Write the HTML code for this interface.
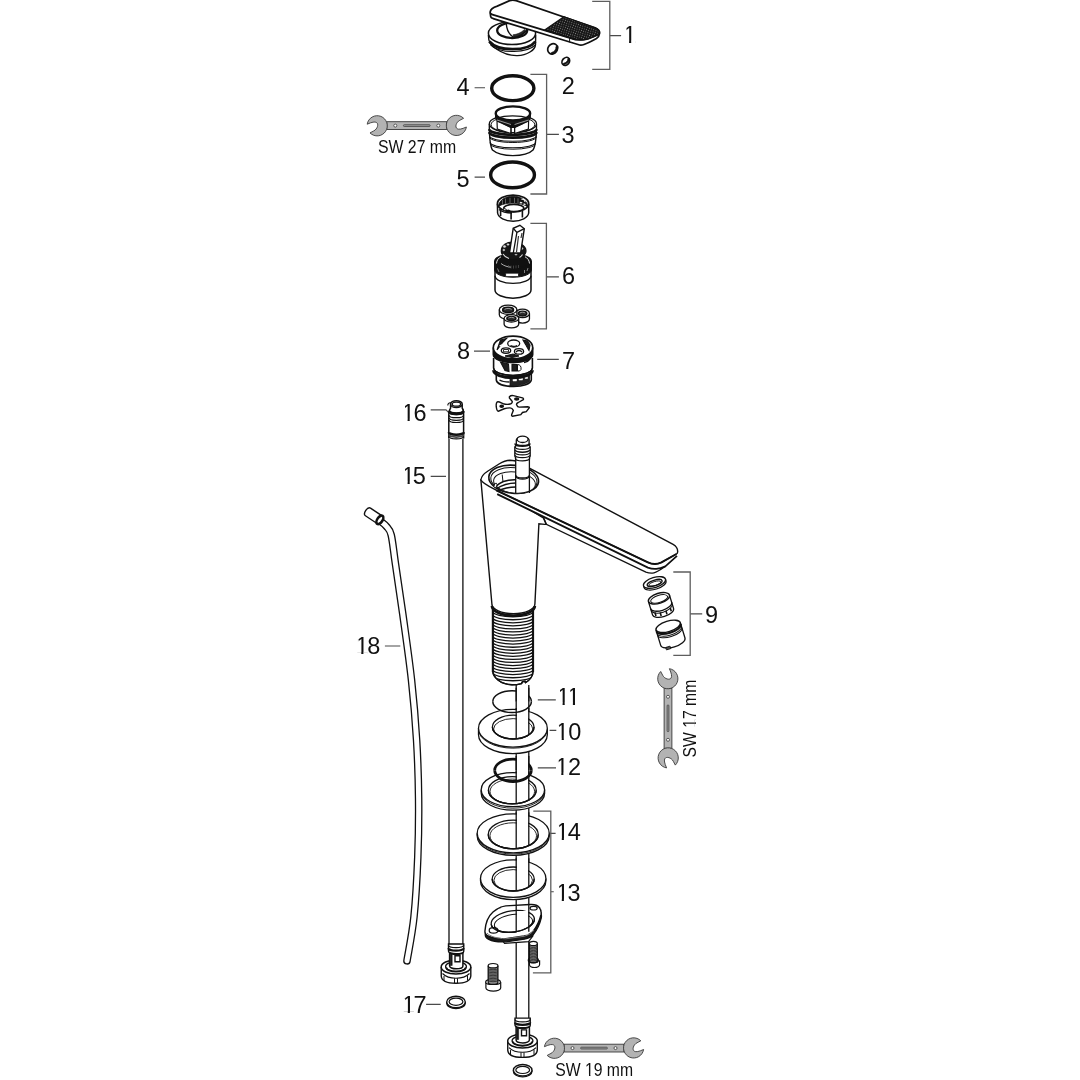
<!DOCTYPE html>
<html><head><meta charset="utf-8"><style>
html,body{margin:0;padding:0;background:#fff;}
svg{display:block;}
.lb{font-family:"Liberation Sans",sans-serif;font-size:23.5px;fill:#111;}
.sw{font-family:"Liberation Sans",sans-serif;font-size:17.5px;fill:#111;}
</style></head><body>
<svg width="1080" height="1080" viewBox="0 0 1080 1080">
<rect width="1080" height="1080" fill="#fff"/>
<g style="opacity:0.999">
<text x="623.19" y="42.8" class="lb">1</text>
<text x="561.77" y="94.2" class="lb">2</text>
<text x="561.53" y="143.2" class="lb">3</text>
<text x="456.49" y="94.8" class="lb">4</text>
<text x="456.44" y="186.7" class="lb">5</text>
<text x="561.98" y="284.2" class="lb">6</text>
<text x="561.90" y="368.9" class="lb">7</text>
<text x="457.12" y="359.0" class="lb">8</text>
<text x="705.12" y="622.6" class="lb">9</text>
<text x="555.79" y="740.0" class="lb">1</text>
<text x="568.32" y="740.0" class="lb">0</text>
<text x="556.69" y="704.7" class="lb">1</text>
<text x="566.99" y="704.7" class="lb">1</text>
<text x="555.39" y="774.8" class="lb">1</text>
<text x="568.11" y="774.8" class="lb">2</text>
<text x="555.89" y="900.8" class="lb">1</text>
<text x="567.53" y="900.8" class="lb">3</text>
<text x="555.89" y="840.0" class="lb">1</text>
<text x="567.84" y="840.0" class="lb">4</text>
<text x="401.69" y="483.7" class="lb">1</text>
<text x="412.82" y="483.7" class="lb">5</text>
<text x="401.69" y="420.9" class="lb">1</text>
<text x="413.46" y="420.9" class="lb">6</text>
<text x="401.89" y="1013.3" class="lb">1</text>
<text x="413.51" y="1013.3" class="lb">7</text>
<text x="355.39" y="654.2" class="lb">1</text>
<text x="367.35" y="654.2" class="lb">8</text>
<rect x="624.34" y="40.74" width="4.73" height="3.06" fill="#fff"/>
<rect x="631.21" y="40.74" width="4.49" height="3.06" fill="#fff"/>
<rect x="624.91" y="27.88" width="1.61" height="3.79" fill="#fff"/>
<rect x="556.94" y="737.94" width="4.73" height="3.06" fill="#fff"/>
<rect x="563.81" y="737.94" width="4.49" height="3.06" fill="#fff"/>
<rect x="557.51" y="725.08" width="1.61" height="3.79" fill="#fff"/>
<rect x="557.84" y="702.64" width="4.73" height="3.06" fill="#fff"/>
<rect x="564.71" y="702.64" width="4.49" height="3.06" fill="#fff"/>
<rect x="558.41" y="689.78" width="1.61" height="3.79" fill="#fff"/>
<rect x="568.14" y="702.64" width="4.73" height="3.06" fill="#fff"/>
<rect x="575.01" y="702.64" width="4.49" height="3.06" fill="#fff"/>
<rect x="568.71" y="689.78" width="1.61" height="3.79" fill="#fff"/>
<rect x="556.54" y="772.74" width="4.73" height="3.06" fill="#fff"/>
<rect x="563.41" y="772.74" width="4.49" height="3.06" fill="#fff"/>
<rect x="557.11" y="759.88" width="1.61" height="3.79" fill="#fff"/>
<rect x="557.04" y="898.74" width="4.73" height="3.06" fill="#fff"/>
<rect x="563.91" y="898.74" width="4.49" height="3.06" fill="#fff"/>
<rect x="557.61" y="885.88" width="1.61" height="3.79" fill="#fff"/>
<rect x="557.04" y="837.94" width="4.73" height="3.06" fill="#fff"/>
<rect x="563.91" y="837.94" width="4.49" height="3.06" fill="#fff"/>
<rect x="557.61" y="825.08" width="1.61" height="3.79" fill="#fff"/>
<rect x="402.84" y="481.64" width="4.73" height="3.06" fill="#fff"/>
<rect x="409.71" y="481.64" width="4.49" height="3.06" fill="#fff"/>
<rect x="403.41" y="468.78" width="1.61" height="3.79" fill="#fff"/>
<rect x="402.84" y="418.84" width="4.73" height="3.06" fill="#fff"/>
<rect x="409.71" y="418.84" width="4.49" height="3.06" fill="#fff"/>
<rect x="403.41" y="405.98" width="1.61" height="3.79" fill="#fff"/>
<rect x="403.04" y="1011.24" width="4.73" height="3.06" fill="#fff"/>
<rect x="409.91" y="1011.24" width="4.49" height="3.06" fill="#fff"/>
<rect x="403.61" y="998.38" width="1.61" height="3.79" fill="#fff"/>
<rect x="356.54" y="652.14" width="4.73" height="3.06" fill="#fff"/>
<rect x="363.41" y="652.14" width="4.49" height="3.06" fill="#fff"/>
<rect x="357.11" y="639.28" width="1.61" height="3.79" fill="#fff"/>
<text transform="translate(377.9 152.9) scale(0.906 1)" class="sw">SW 27 mm</text>
<g transform="translate(555.3 1075.5) scale(0.9 1)"><text class="sw">SW 19 mm</text><rect x="33.91" y="-1.61" width="3.52" height="2.61" fill="#fff"/><rect x="39.02" y="-1.61" width="3.34" height="2.61" fill="#fff"/></g>
<g transform="translate(695.9 757.5) rotate(-90) scale(0.9 1)"><text class="sw">SW 17 mm</text><rect x="33.91" y="-1.61" width="3.52" height="2.61" fill="#fff"/><rect x="39.02" y="-1.61" width="3.34" height="2.61" fill="#fff"/></g>
</g>
<path d="M609.8,35.6H621.1M546.6,134.4H558.9M474.6,87.7H485M474.6,177.1H485M546.4,276.8H558.9M537.2,359.4H558.8M474,351.1H490M690.2,613.9H702.2M549.6,730.4H556.3M537.8,699.9H555.8M537.8,767.9H556M551,891.7H553.75M548,833.3H555.6M430.7,476.4H446M426.1,1004.3H440.7M384.9,646H400.3M430.7,409.9H446L449,412.9" fill="none" stroke="#4a4a4a" stroke-width="1.15"/>
<path d="M592.2,1.4H609.8V69.4H592.2 M530.4,74.3H546.6V194H530.4 M530.4,223.3H546.4V328.9H530.4 M673.3,572H690.2V655.3H673.3 M533.3,811.1H550.8V972.9H532.9" fill="none" stroke="#5e5e5e" stroke-width="1.3"/>
<g transform="translate(416.8 125.6) rotate(0)"><rect x="-30" y="-3.9" width="60" height="7.8" fill="#b3b3b3" stroke="#3a3a3a" stroke-width="0.9"/><circle cx="-21.5" cy="0" r="1.5" fill="#fff" stroke="#3a3a3a" stroke-width="0.8"/><circle cx="21.5" cy="0" r="1.5" fill="#fff" stroke="#3a3a3a" stroke-width="0.8"/><rect x="-13.4" y="-0.9" width="26.8" height="1.8" rx="0.9" fill="#999" stroke="#3a3a3a" stroke-width="0.7"/><path transform="translate(-38.7 0)" d="M-10.9,-1.4A10.1,10.1 0 1 1 -8.1,7.3L-4.3,5.3C-0.6,3.4 0.8,-1.6 -1.6,-3.1C-3.2,-4.1 -6,-3.6 -10.9,-1.4Z" fill="#b3b3b3" stroke="#3a3a3a" stroke-width="0.9"/><path transform="translate(38.7 0) rotate(180)" d="M-10.9,-1.4A10.1,10.1 0 1 1 -8.1,7.3L-4.3,5.3C-0.6,3.4 0.8,-1.6 -1.6,-3.1C-3.2,-4.1 -6,-3.6 -10.9,-1.4Z" fill="#b3b3b3" stroke="#3a3a3a" stroke-width="0.9"/></g>
<g transform="translate(594.0 1048.1) rotate(0)"><rect x="-30" y="-3.9" width="60" height="7.8" fill="#b3b3b3" stroke="#3a3a3a" stroke-width="0.9"/><circle cx="-21.5" cy="0" r="1.5" fill="#fff" stroke="#3a3a3a" stroke-width="0.8"/><circle cx="21.5" cy="0" r="1.5" fill="#fff" stroke="#3a3a3a" stroke-width="0.8"/><rect x="-13.4" y="-0.9" width="26.8" height="1.8" rx="0.9" fill="#999" stroke="#3a3a3a" stroke-width="0.7"/><path transform="translate(-38.7 0)" d="M-10.9,-1.4A10.1,10.1 0 1 1 -8.1,7.3L-4.3,5.3C-0.6,3.4 0.8,-1.6 -1.6,-3.1C-3.2,-4.1 -6,-3.6 -10.9,-1.4Z" fill="#b3b3b3" stroke="#3a3a3a" stroke-width="0.9"/><path transform="translate(38.7 0) rotate(180)" d="M-10.9,-1.4A10.1,10.1 0 1 1 -8.1,7.3L-4.3,5.3C-0.6,3.4 0.8,-1.6 -1.6,-3.1C-3.2,-4.1 -6,-3.6 -10.9,-1.4Z" fill="#b3b3b3" stroke="#3a3a3a" stroke-width="0.9"/></g>
<g transform="translate(668.0 718.3) rotate(90)"><rect x="-30" y="-3.9" width="60" height="7.8" fill="#b3b3b3" stroke="#3a3a3a" stroke-width="0.9"/><circle cx="-21.5" cy="0" r="1.5" fill="#fff" stroke="#3a3a3a" stroke-width="0.8"/><circle cx="21.5" cy="0" r="1.5" fill="#fff" stroke="#3a3a3a" stroke-width="0.8"/><rect x="-13.4" y="-0.9" width="26.8" height="1.8" rx="0.9" fill="#999" stroke="#3a3a3a" stroke-width="0.7"/><path transform="translate(-38.7 0)" d="M-10.9,-1.4A10.1,10.1 0 1 1 -8.1,7.3L-4.3,5.3C-0.6,3.4 0.8,-1.6 -1.6,-3.1C-3.2,-4.1 -6,-3.6 -10.9,-1.4Z" fill="#b3b3b3" stroke="#3a3a3a" stroke-width="0.9"/><path transform="translate(38.7 0) rotate(180)" d="M-10.9,-1.4A10.1,10.1 0 1 1 -8.1,7.3L-4.3,5.3C-0.6,3.4 0.8,-1.6 -1.6,-3.1C-3.2,-4.1 -6,-3.6 -10.9,-1.4Z" fill="#b3b3b3" stroke="#3a3a3a" stroke-width="0.9"/></g>
<path d="M379.5,520.5 C380.67,521.50 384.55,524.08 386.5,526.5 C388.45,528.92 389.72,528.83 391.2,535 C392.68,541.17 393.45,550.18 395.4,563.5 C397.35,576.82 400.22,595.48 402.9,614.9 C405.58,634.32 409.22,659.15 411.5,680 C413.78,700.85 415.42,720.33 416.6,740 C417.78,759.67 418.40,778.50 418.6,798 C418.80,817.50 418.57,837.22 417.8,857 C417.03,876.78 415.80,899.40 414,916.7 C412.20,934.00 408.17,953.45 407,960.8" fill="none" stroke="#111" stroke-width="7.6" stroke-linecap="round"/>
<path d="M379.5,520.5 C380.67,521.50 384.55,524.08 386.5,526.5 C388.45,528.92 389.72,528.83 391.2,535 C392.68,541.17 393.45,550.18 395.4,563.5 C397.35,576.82 400.22,595.48 402.9,614.9 C405.58,634.32 409.22,659.15 411.5,680 C413.78,700.85 415.42,720.33 416.6,740 C417.78,759.67 418.40,778.50 418.6,798 C418.80,817.50 418.57,837.22 417.8,857 C417.03,876.78 415.80,899.40 414,916.7 C412.20,934.00 408.17,953.45 407,960.8" fill="none" stroke="#fff" stroke-width="5.0" stroke-linecap="round"/>
<g transform="translate(373.8 515.8) rotate(33.5)"><path d="M6.5,-4.6 H-7 C-10.5,-4.6 -10.5,4.6 -7,4.6 H6.5" fill="#fff" stroke="#111" stroke-width="1.4"/><ellipse cx="7.3" cy="0" rx="2.6" ry="4.8" fill="#fff" stroke="#111" stroke-width="2.6"/></g>
<path d="M449,438.5 V944 M462.9,438.5 V944" fill="none" stroke="#111" stroke-width="1.3"/>
<path d="M448.8,438.5 V414 L449.4,410.5 L450.6,408 V404 A5.8,3.2 0 0 1 462.2,404 V408 L463.3,410.5 L463.6,414 V438.5" fill="#fff" stroke="#111" stroke-width="1.5"/>
<ellipse cx="456.4" cy="404.2" rx="4.2" ry="2.0" fill="#fff" stroke="#111" stroke-width="1.3"/>
<path d="M450.59999999999997,404.5A5.8,3.0 0 0 0 462.2,404.5" fill="none" stroke="#111" stroke-width="1.4"/>
<path d="M449.4,410.5 A7,2.6 0 0 0 463.3,410.5 L463.6,412 A7.1,2.6 0 0 1 449.2,412 Z" fill="#111" stroke="#111" stroke-width="1.2"/>
<path d="M449.29999999999995,411.2A7.1,2.8 0 0 0 463.5,411.2" fill="none" stroke="#111" stroke-width="2.6"/>
<path d="M449.0,415.2A7.3,2.5 0 0 0 463.6,415.2" fill="none" stroke="#111" stroke-width="1.2"/>
<path d="M449.0,417.8A7.3,2.5 0 0 0 463.6,417.8" fill="none" stroke="#111" stroke-width="1.2"/>
<path d="M449.0,420.0A7.3,2.5 0 0 0 463.6,420.0" fill="none" stroke="#111" stroke-width="1.2"/>
<path d="M448.90000000000003,432.3A7.4,2.5 0 0 0 463.7,432.3" fill="none" stroke="#111" stroke-width="2.6"/>
<path d="M449.1,434.6A7.2,2.5 0 0 0 463.5,434.6" fill="none" stroke="#444" stroke-width="1.6"/>
<path d="M449.3,436.6A7.0,2.3 0 0 0 463.3,436.6" fill="none" stroke="#111" stroke-width="1.1"/>
<path d="M447.8,405.5 C447.8,403.5 449,402.6 450.6,402.8" fill="none" stroke="#111" stroke-width="1.1"/>
<path d="M441.25,967 V976 C441.5,980 446,983.3 456,983.3 C466,983.3 470.5,980 470.8,976 V967" fill="#fff" stroke="#111" stroke-width="1.4"/>
<path d="M442.5,973.5 C446,977 451,978.2 456,978.2 C461,978.2 466,977 469.5,973.5" fill="none" stroke="#111" stroke-width="1.1"/>
<path d="M444,976 V981 M454.5,978.3 V983.2 M457.5,978.3 V983.2 M467.5,975.5 V980.5" fill="none" stroke="#111" stroke-width="1.0"/>
<ellipse cx="456" cy="967" rx="14.8" ry="7.0" fill="#fff" stroke="#111" stroke-width="1.5"/>
<ellipse cx="456" cy="966.6" rx="10.4" ry="4.8" fill="#fff" stroke="#111" stroke-width="1.3"/>
<path d="M446.4,967.4A9.6,4.3 0 0 0 465.6,967.4" fill="none" stroke="#111" stroke-width="1.8"/>
<path d="M449.6,951.5 V966 A6.65,2.8 0 0 0 462.9,966 V951.5 Z" fill="#fff" stroke="#111" stroke-width="1.5"/>
<path d="M450.2,953 h2 v12.5 h-2z" fill="#1a1a1a" stroke="#111" stroke-width="0.5"/>
<path d="M455,955.8 h5 v5.9 h-5z" fill="#fff" stroke="#111" stroke-width="1.4"/>
<path d="M449.6,952A6.65,2.4 0 0 0 462.9,952" fill="none" stroke="#111" stroke-width="1.5"/>
<path d="M448.5,944 V951.2 A7.6,2.5 0 0 0 463.75,951.2 V944 Z" fill="#fff" stroke="#111" stroke-width="1.4"/>
<path d="M448.5,945.3A7.6,2.4 0 0 0 463.70000000000005,945.3" fill="none" stroke="#111" stroke-width="1.3"/>
<path d="M448.5,948.3A7.6,2.4 0 0 0 463.70000000000005,948.3" fill="none" stroke="#111" stroke-width="2.3"/>
<path d="M446.7,1002 V1003 A9.3,5.7 0 0 0 465.3,1003 V1002" fill="#fff" stroke="#111" stroke-width="1.3"/>
<ellipse cx="456.0" cy="1002.0" rx="9.3" ry="5.7" fill="#fff" stroke="#111" stroke-width="1.4"/>
<ellipse cx="456.0" cy="1001.7" rx="6.9" ry="3.6" fill="none" stroke="#111" stroke-width="1.2"/>
<path d="M507.75,1041.1 V1050.1 C508.0,1054.1 512.5,1057.4 522.5,1057.4 C532.5,1057.4 537.0,1054.1 537.3,1050.1 V1041.1" fill="#fff" stroke="#111" stroke-width="1.4"/>
<path d="M509.0,1047.6 C512.5,1051.1 517.5,1052.3 522.5,1052.3 C527.5,1052.3 532.5,1051.1 536.0,1047.6" fill="none" stroke="#111" stroke-width="1.1"/>
<path d="M510.5,1050.1 V1055.1 M521.0,1052.4 V1057.3 M524.0,1052.4 V1057.3 M534.0,1049.6 V1054.6" fill="none" stroke="#111" stroke-width="1.0"/>
<ellipse cx="522.5" cy="1041.1" rx="14.8" ry="7.0" fill="#fff" stroke="#111" stroke-width="1.5"/>
<ellipse cx="522.5" cy="1040.7" rx="10.4" ry="4.8" fill="#fff" stroke="#111" stroke-width="1.3"/>
<path d="M512.9,1041.5A9.6,4.3 0 0 0 532.1,1041.5" fill="none" stroke="#111" stroke-width="1.8"/>
<path d="M516.1,1025.6 V1040.1 A6.65,2.8 0 0 0 529.4,1040.1 V1025.6 Z" fill="#fff" stroke="#111" stroke-width="1.5"/>
<path d="M516.7,1027.1 h2 v12.5 h-2z" fill="#1a1a1a" stroke="#111" stroke-width="0.5"/>
<path d="M521.5,1029.9 h5 v5.9 h-5z" fill="#fff" stroke="#111" stroke-width="1.4"/>
<path d="M516.1,1026.1A6.65,2.4 0 0 0 529.4,1026.1" fill="none" stroke="#111" stroke-width="1.5"/>
<path d="M515.0,1018.1 V1025.3 A7.6,2.5 0 0 0 530.25,1025.3 V1018.1 Z" fill="#fff" stroke="#111" stroke-width="1.4"/>
<path d="M515.0,1019.4A7.6,2.4 0 0 0 530.2,1019.4" fill="none" stroke="#111" stroke-width="1.3"/>
<path d="M515.0,1022.4A7.6,2.4 0 0 0 530.2,1022.4" fill="none" stroke="#111" stroke-width="2.3"/>
<path d="M513.4,1070.2 V1071.2 A9.3,5.7 0 0 0 532,1071.2 V1070.2" fill="#fff" stroke="#111" stroke-width="1.3"/>
<ellipse cx="522.7" cy="1070.2" rx="9.3" ry="5.7" fill="#fff" stroke="#111" stroke-width="1.4"/>
<ellipse cx="522.7" cy="1069.9" rx="6.9" ry="3.6" fill="none" stroke="#111" stroke-width="1.2"/>
<path d="M529.4,960.2 V964.5 A5.100000000000023,3 0 0 0 539.6,964.5 V960.2" fill="#fff" stroke="#111" stroke-width="1.2"/>
<ellipse cx="533.3499999999999" cy="960.2" rx="5.100000000000023" ry="2.6" fill="#fff" stroke="#111" stroke-width="1.2"/>
<path d="M529.4,943.5 V960.7 A3.9499999999999886,2 0 0 0 537.3,960.7 V943.5" fill="#888" stroke="#111" stroke-width="1.3"/>
<path d="M529.3999999999999,946.0A3.9499999999999886,1.5 0 0 0 537.3,946.0" fill="none" stroke="#222" stroke-width="0.8"/>
<path d="M529.3999999999999,947.5A3.9499999999999886,1.5 0 0 0 537.3,947.5" fill="none" stroke="#222" stroke-width="0.8"/>
<path d="M529.3999999999999,949.0A3.9499999999999886,1.5 0 0 0 537.3,949.0" fill="none" stroke="#222" stroke-width="0.8"/>
<path d="M529.3999999999999,950.5A3.9499999999999886,1.5 0 0 0 537.3,950.5" fill="none" stroke="#222" stroke-width="0.8"/>
<path d="M529.3999999999999,952.0A3.9499999999999886,1.5 0 0 0 537.3,952.0" fill="none" stroke="#222" stroke-width="0.8"/>
<path d="M529.3999999999999,953.5A3.9499999999999886,1.5 0 0 0 537.3,953.5" fill="none" stroke="#222" stroke-width="0.8"/>
<path d="M529.3999999999999,955.0A3.9499999999999886,1.5 0 0 0 537.3,955.0" fill="none" stroke="#222" stroke-width="0.8"/>
<path d="M529.3999999999999,956.5A3.9499999999999886,1.5 0 0 0 537.3,956.5" fill="none" stroke="#222" stroke-width="0.8"/>
<path d="M529.3999999999999,958.0A3.9499999999999886,1.5 0 0 0 537.3,958.0" fill="none" stroke="#222" stroke-width="0.8"/>
<path d="M529.3999999999999,959.5A3.9499999999999886,1.5 0 0 0 537.3,959.5" fill="none" stroke="#222" stroke-width="0.8"/>
<ellipse cx="533.3499999999999" cy="943.5" rx="3.9499999999999886" ry="2.2" fill="#fff" stroke="#111" stroke-width="1.2"/>
<path d="M485.9,981.9 V988.1 A7.400000000000006,3 0 0 0 500.7,988.1 V981.9" fill="#fff" stroke="#111" stroke-width="1.2"/>
<ellipse cx="493.04999999999995" cy="981.9" rx="7.400000000000006" ry="2.6" fill="#fff" stroke="#111" stroke-width="1.2"/>
<path d="M488.2,965.7 V982.4 A4.849999999999994,2 0 0 0 497.9,982.4 V965.7" fill="#888" stroke="#111" stroke-width="1.3"/>
<path d="M488.19999999999993,968.2A4.849999999999994,1.5 0 0 0 497.9,968.2" fill="none" stroke="#222" stroke-width="0.8"/>
<path d="M488.19999999999993,969.7A4.849999999999994,1.5 0 0 0 497.9,969.7" fill="none" stroke="#222" stroke-width="0.8"/>
<path d="M488.19999999999993,971.2A4.849999999999994,1.5 0 0 0 497.9,971.2" fill="none" stroke="#222" stroke-width="0.8"/>
<path d="M488.19999999999993,972.7A4.849999999999994,1.5 0 0 0 497.9,972.7" fill="none" stroke="#222" stroke-width="0.8"/>
<path d="M488.19999999999993,974.2A4.849999999999994,1.5 0 0 0 497.9,974.2" fill="none" stroke="#222" stroke-width="0.8"/>
<path d="M488.19999999999993,975.7A4.849999999999994,1.5 0 0 0 497.9,975.7" fill="none" stroke="#222" stroke-width="0.8"/>
<path d="M488.19999999999993,977.2A4.849999999999994,1.5 0 0 0 497.9,977.2" fill="none" stroke="#222" stroke-width="0.8"/>
<path d="M488.19999999999993,978.7A4.849999999999994,1.5 0 0 0 497.9,978.7" fill="none" stroke="#222" stroke-width="0.8"/>
<path d="M488.19999999999993,980.2A4.849999999999994,1.5 0 0 0 497.9,980.2" fill="none" stroke="#222" stroke-width="0.8"/>
<ellipse cx="493.04999999999995" cy="965.7" rx="4.849999999999994" ry="2.2" fill="#fff" stroke="#111" stroke-width="1.2"/>
<path d="M516.2,685 V1018 M528.8,685 V1018" fill="none" stroke="#111" stroke-width="1.3"/>
<path d="M480.50000000000006,878.6 V880.8000000000001 A32.7,18.8 0 0 0 545.9000000000001,880.8000000000001 V878.6" fill="#fff" stroke="#111" stroke-width="1.3"/>
<ellipse cx="513.2" cy="878.6" rx="32.7" ry="18.8" fill="#fff" stroke="#111" stroke-width="1.3"/>
<ellipse cx="513.2" cy="879" rx="21" ry="12" fill="#fff" stroke="#111" stroke-width="1.3"/>
<ellipse cx="513.2" cy="880.2" rx="19.3" ry="10.6" fill="none" stroke="#111" stroke-width="0.9"/>
<rect x="516.9000000000001" y="858.3000000000001" width="11.199999999999909" height="20.699999999999932" fill="#fff"/>
<path d="M516.2,858.3000000000001 V890.88 M528.8,858.3000000000001 V887.03" fill="none" stroke="#111" stroke-width="1.3"/>
<path d="M492.20000000000005,879A21,12 0 0 0 534.2,879" fill="none" stroke="#111" stroke-width="1.3"/>
<path d="M477.20000000000005,833.3 V835.9 A36,19.5 0 0 0 549.2,835.9 V833.3" fill="#fff" stroke="#111" stroke-width="1.3"/>
<path d="M477.20000000000005,834.5A36,19.5 0 0 0 549.2,834.5" fill="none" stroke="#111" stroke-width="0.9"/>
<ellipse cx="513.2" cy="833.3" rx="36" ry="19.5" fill="#fff" stroke="#111" stroke-width="1.3"/>
<ellipse cx="513.25" cy="834.5" rx="25" ry="14.3" fill="#fff" stroke="#111" stroke-width="1.3"/>
<ellipse cx="513.25" cy="835.7" rx="23.3" ry="12.9" fill="none" stroke="#111" stroke-width="0.9"/>
<rect x="516.9000000000001" y="812.3" width="11.199999999999909" height="22.200000000000045" fill="#fff"/>
<path d="M516.2,812.3 V848.70 M528.8,812.3 V845.70" fill="none" stroke="#111" stroke-width="1.3"/>
<path d="M488.25,834.5A25,14.3 0 0 0 538.25,834.5" fill="none" stroke="#111" stroke-width="1.3"/>
<path d="M481.2,789.7 V793.2 A31.7,17 0 0 0 544.6,793.2 V789.7" fill="#fff" stroke="#111" stroke-width="1.3"/>
<path d="M481.2,791.2A31.7,17 0 0 0 544.6,791.2" fill="none" stroke="#111" stroke-width="0.9"/>
<ellipse cx="512.9" cy="789.7" rx="31.7" ry="17" fill="#fff" stroke="#111" stroke-width="1.3"/>
<ellipse cx="512.3" cy="790.3" rx="23.9" ry="13.6" fill="#fff" stroke="#111" stroke-width="1.3"/>
<ellipse cx="512.3" cy="791.4" rx="22.3" ry="12.3" fill="none" stroke="#111" stroke-width="0.9"/>
<rect x="516.9000000000001" y="771.2" width="11.199999999999909" height="19.09999999999991" fill="#fff"/>
<path d="M516.2,771.2 V803.72 M528.8,771.2 V800.14" fill="none" stroke="#111" stroke-width="1.3"/>
<path d="M488.4,790.3A23.9,13.6 0 0 0 536.1999999999999,790.3" fill="none" stroke="#111" stroke-width="1.3"/>
<path d="M494.7,770.3A18.3,11.2 0 0 1 531.3,770.3" fill="none" stroke="#111" stroke-width="2.8"/>
<rect x="516.9000000000001" y="757.0999999999999" width="11.199999999999909" height="13.2" fill="#fff"/>
<path d="M516.2,756.0999999999999 V770.3 M528.8,756.0999999999999 V770.3" fill="none" stroke="#111" stroke-width="1.3"/>
<path d="M494.7,770.3A18.3,11.2 0 0 0 531.3,770.3" fill="none" stroke="#111" stroke-width="2.8"/>
<path d="M478.5,728.3 V734.8 A34.4,18.9 0 0 0 547.3,734.8 V728.3" fill="#fff" stroke="#111" stroke-width="1.3"/>
<path d="M478.5,729.3A34.4,18.9 0 0 0 547.3,729.3" fill="none" stroke="#111" stroke-width="0.9"/>
<ellipse cx="512.9" cy="728.3" rx="34.4" ry="18.9" fill="#fff" stroke="#111" stroke-width="1.3"/>
<ellipse cx="513.2" cy="727" rx="20.8" ry="11.9" fill="#fff" stroke="#111" stroke-width="1.3"/>
<ellipse cx="513.2" cy="729" rx="19.6" ry="10.4" fill="none" stroke="#111" stroke-width="0.9"/>
<rect x="516.9000000000001" y="707.9" width="11.199999999999909" height="19.100000000000023" fill="#fff"/>
<path d="M516.2,707.9 V738.78 M528.8,707.9 V734.87" fill="none" stroke="#111" stroke-width="1.3"/>
<path d="M492.40000000000003,727A20.8,11.9 0 0 0 534.0,727" fill="none" stroke="#111" stroke-width="1.3"/>
<path d="M492.8,701.6A19.3,10.9 0 0 1 531.4,701.6" fill="none" stroke="#111" stroke-width="1.5"/>
<rect x="516.9000000000001" y="688.7" width="11.199999999999909" height="12.9" fill="#fff"/>
<path d="M516.2,687.7 V701.6 M528.8,687.7 V701.6" fill="none" stroke="#111" stroke-width="1.3"/>
<path d="M492.8,701.6A19.3,10.9 0 0 0 531.4,701.6" fill="none" stroke="#111" stroke-width="1.5"/>
<path d="M501.5,939 L504.5,943.4 L528.5,941.6 L532.5,936.5 Z" fill="#fff" stroke="#111" stroke-width="1.2"/>
<g transform="translate(0.3 3.2)"><path d="M484.9,931.3 C485.5,922 489,915.5 493,912 C497,908.5 501,906.5 505.8,905.9 L529.9,904.5 C534,904.2 537.5,905 539.1,907.3 C541,909.5 541.5,912 541,914.7 C539.5,921 536.5,927 533,931.5 C531,933.8 528,935 524,936 L505.8,938.6 C499,939 492,938 488.5,936.2 C486,935 484.9,933.5 484.9,931.3 Z" fill="#1a1a1a" stroke="#111" stroke-width="1.3"/></g>
<path d="M484.9,931.3 C485.5,922 489,915.5 493,912 C497,908.5 501,906.5 505.8,905.9 L529.9,904.5 C534,904.2 537.5,905 539.1,907.3 C541,909.5 541.5,912 541,914.7 C539.5,921 536.5,927 533,931.5 C531,933.8 528,935 524,936 L505.8,938.6 C499,939 492,938 488.5,936.2 C486,935 484.9,933.5 484.9,931.3 Z" fill="#fff" stroke="#111" stroke-width="1.4"/>
<path d="M487,933 C490,936.5 497,938.5 505.8,938.8 L524,936.3 C529,935 532,933 534,930" fill="none" stroke="#777" stroke-width="1.0"/>
<ellipse cx="512.8" cy="921.4" rx="21.8" ry="10.7" fill="#fff" stroke="#111" stroke-width="1.3" transform="rotate(-8 512.8 921.4)"/>
<ellipse cx="513.5" cy="923.2" rx="19.3" ry="8.8" fill="#fff" stroke="#111" stroke-width="1.0" transform="rotate(-8 513.5 923.2)"/>
<ellipse cx="493.5" cy="930.4" rx="4.3" ry="2.7" fill="#fff" stroke="#111" stroke-width="1.2"/>
<ellipse cx="533.6" cy="908.2" rx="3.6" ry="1.8" fill="#fff" stroke="#111" stroke-width="1.2"/>
<rect x="516.9" y="911" width="11.2" height="23.5" fill="#fff"/>
<path d="M516.2,905 V931.8 M528.8,905 V931.8" fill="none" stroke="#111" stroke-width="1.3"/>
<g transform="rotate(-8 512.8 921.4)"><path d="M490.99999999999994,921.4A21.8,10.7 0 0 0 534.5999999999999,921.4" fill="none" stroke="#111" stroke-width="1.3"/></g>
<g transform="rotate(-8 513.5 923.2)"><path d="M494.2,923.2 A19.3,8.8 0 0 0 532.8,923.2" fill="none" stroke="#111" stroke-width="1.0"/></g>
<path d="M492.8,606 V671 C493,677 500,684.6 512,684.8 C516,684.8 519,684.3 521.5,683.6 L522.5,681.6 L525,681.2 L525.5,682.6 C529,680.8 533.1,676.5 533.1,671 V606 Z" fill="#fff" stroke="#111" stroke-width="1.4"/>
<defs><clipPath id="shank"><path d="M492.8,606 V671 C493,677 500,684.6 512,684.8 C516,684.8 519,684.3 521.5,683.6 L522.5,681.6 L525,681.2 L525.5,682.6 C529,680.8 533.1,676.5 533.1,671 V606 Z"/></clipPath></defs><g clip-path="url(#shank)">
<path d="M492.8,611.9 A20.2,5.2 0 0 0 533.1,611.9" fill="none" stroke="#111" stroke-width="1.3"/>
<path d="M492.8,614.9 A20.2,5.2 0 0 0 533.1,614.9" fill="none" stroke="#111" stroke-width="1.3"/>
<path d="M492.8,618.0 A20.2,5.2 0 0 0 533.1,618.0" fill="none" stroke="#111" stroke-width="1.3"/>
<path d="M492.8,621.0 A20.2,5.2 0 0 0 533.1,621.0" fill="none" stroke="#111" stroke-width="1.3"/>
<path d="M492.8,624.1 A20.2,5.2 0 0 0 533.1,624.1" fill="none" stroke="#111" stroke-width="1.3"/>
<path d="M492.8,627.1 A20.2,5.2 0 0 0 533.1,627.1" fill="none" stroke="#111" stroke-width="1.3"/>
<path d="M492.8,630.2 A20.2,5.2 0 0 0 533.1,630.2" fill="none" stroke="#111" stroke-width="1.3"/>
<path d="M492.8,633.2 A20.2,5.2 0 0 0 533.1,633.2" fill="none" stroke="#111" stroke-width="1.3"/>
<path d="M492.8,636.3 A20.2,5.2 0 0 0 533.1,636.3" fill="none" stroke="#111" stroke-width="1.3"/>
<path d="M492.8,639.3 A20.2,5.2 0 0 0 533.1,639.3" fill="none" stroke="#111" stroke-width="1.3"/>
<path d="M492.8,642.4 A20.2,5.2 0 0 0 533.1,642.4" fill="none" stroke="#111" stroke-width="1.3"/>
<path d="M492.8,645.4 A20.2,5.2 0 0 0 533.1,645.4" fill="none" stroke="#111" stroke-width="1.3"/>
<path d="M492.8,648.5 A20.2,5.2 0 0 0 533.1,648.5" fill="none" stroke="#111" stroke-width="1.3"/>
<path d="M492.8,651.5 A20.2,5.2 0 0 0 533.1,651.5" fill="none" stroke="#111" stroke-width="1.3"/>
<path d="M492.8,654.6 A20.2,5.2 0 0 0 533.1,654.6" fill="none" stroke="#111" stroke-width="1.3"/>
<path d="M492.8,657.6 A20.2,5.2 0 0 0 533.1,657.6" fill="none" stroke="#111" stroke-width="1.3"/>
<path d="M492.8,660.7 A20.2,5.2 0 0 0 533.1,660.7" fill="none" stroke="#111" stroke-width="1.3"/>
<path d="M492.8,663.7 A20.2,5.2 0 0 0 533.1,663.7" fill="none" stroke="#111" stroke-width="1.3"/>
<path d="M492.8,666.8 A20.2,5.2 0 0 0 533.1,666.8" fill="none" stroke="#111" stroke-width="1.3"/>
<path d="M492.8,669.8 A20.2,5.2 0 0 0 533.1,669.8" fill="none" stroke="#111" stroke-width="1.3"/>
<path d="M492.8,672.9 A20.2,5.2 0 0 0 533.1,672.9" fill="none" stroke="#111" stroke-width="1.3"/>
<path d="M492.8,675.9 A20.2,5.2 0 0 0 533.1,675.9" fill="none" stroke="#111" stroke-width="1.3"/>
</g>
<path d="M492.8,606 V671 C493,677 500,684.6 512,684.8 C516,684.8 519,684.3 521.5,683.6 L522.5,681.6 L525,681.2 L525.5,682.6 C529,680.8 533.1,676.5 533.1,671 V606 Z" fill="none" stroke="#111" stroke-width="1.4"/>
<path d="M492.8,604 V672 M533.1,604 V672" fill="none" stroke="#111" stroke-width="2.0"/>
<path d="M480.9,480 L491.9,604 A21.5,9.6 0 0 0 534.9,604 L538.9,523.7 L544.8,524.4 L546.3,524.4 L543.3,517.8 Z" fill="#fff" stroke="#111" stroke-width="1.4"/>
<path d="M491.9,606 A21.5,9.6 0 0 0 534.9,606" fill="none" stroke="#111" stroke-width="2.6"/>
<path d="M497.2,494.1 L647.9,567.6 C651,568.8 653.5,569.1 656.3,568.9 C659.5,568.5 662.5,567.5 665.4,566.3 L677,555.9 L677.7,551.4 L496.4,490.3 Z" fill="#fff" stroke="none" stroke-width="0"/>
<path d="M543.3,517.2 C544.5,519.5 545.5,522 546.3,524.4 L645.9,572.1 C648,572.9 650.5,573.2 652.4,573.1 C655.5,572.9 658.5,570.8 661.5,568.9 L665.4,566.3" fill="none" stroke="#111" stroke-width="1.3"/>
<path d="M497.2,494.1 L647.9,567.6 C651,568.8 653.5,569.1 656.3,568.9 C659.5,568.5 662.5,567.5 665.4,566.3 L677,555.9" fill="none" stroke="#111" stroke-width="1.8"/>
<path d="M480.9,480 C481.3,475.5 484,473.5 488,471 L499,464 C503,461.5 506,460.3 510,460.2 C513,460.2 516,461 519,462.6 L673.1,544.3 C676,546 677.7,548.5 677.7,551.4 C677.7,552.8 677.2,553.5 676.4,554 L661.5,562.4 C659,563.6 657,564.1 655,564.1 C652.5,564.1 650,563.5 647.9,562.4 L496.4,490.3 C488,486 482,483 480.9,480 Z" fill="#fff" stroke="#111" stroke-width="1.4"/>
<path d="M496.4,490.3 L647.9,562.4 C650,563.5 652.5,564.1 655,564.1 C657,564.1 659,563.6 661.5,562.4 L676.4,554" fill="none" stroke="#111" stroke-width="2.0"/>
<ellipse cx="513.7" cy="479.3" rx="25" ry="14" fill="#fff" stroke="#111" stroke-width="1.6" transform="rotate(6 513.7 479.3)"/>
<ellipse cx="513.9" cy="480.2" rx="23.2" ry="12.4" fill="#fff" stroke="#111" stroke-width="1.0" transform="rotate(6 513.9 480.2)"/>
<ellipse cx="514.5" cy="482.5" rx="21" ry="10.5" fill="#fff" stroke="#111" stroke-width="1.0" transform="rotate(6 514.5 482.5)"/>
<path d="M495,487 C500,482 508,479.5 516,479.8 M496,489 C502,485 509,483 516,483 M498,491 C504,488 510,487 516,487" fill="none" stroke="#111" stroke-width="1.5"/>
<path d="M502.2,474.5 L503,482" fill="none" stroke="#111" stroke-width="1.0"/>
<ellipse cx="495.5" cy="485.5" rx="1.3" ry="2.4" fill="#fff" stroke="#111" stroke-width="0.9" transform="rotate(20 495.5 485.5)"/>
<path d="M515.7,493.3 V474.8 M529.4,493 V474.8" fill="none" stroke="#111" stroke-width="1.3"/>
<path d="M515.7,476 V458 L514.8,456 V447 L516.3,445 V440 A6.5,3.5 0 0 1 529.1,440 V445 L530.2,447 V456 L529.4,458 V476 A6.85,3.2 0 0 1 515.7,476 Z" fill="#fff" stroke="#111" stroke-width="1.3"/>
<ellipse cx="522.6" cy="439.3" rx="5.5" ry="3.2" fill="#fff" stroke="#111" stroke-width="1.3"/>
<path d="M515.25,443.5A7.3,2.4 0 0 0 529.8499999999999,443.5" fill="none" stroke="#111" stroke-width="2.2"/>
<path d="M515.25,447A7.3,2.4 0 0 0 529.8499999999999,447" fill="none" stroke="#111" stroke-width="1.2"/>
<path d="M515.25,449.8A7.3,2.4 0 0 0 529.8499999999999,449.8" fill="none" stroke="#111" stroke-width="1.5"/>
<path d="M515.25,452.5A7.3,2.4 0 0 0 529.8499999999999,452.5" fill="none" stroke="#111" stroke-width="1.2"/>
<path d="M515.25,455.3A7.3,2.4 0 0 0 529.8499999999999,455.3" fill="none" stroke="#111" stroke-width="1.2"/>
<path d="M515.25,458.5A7.3,2.4 0 0 0 529.8499999999999,458.5" fill="none" stroke="#111" stroke-width="1.3"/>
<path d="M515.6999999999999,475A6.85,3.0 0 0 0 529.4,475" fill="none" stroke="#111" stroke-width="1.3"/>
<g transform="rotate(-17 654.5 582.5)">
<path d="M643,582.5 V584.3 A11.5,5 0 0 0 666,584.3 V582.5" fill="#fff" stroke="#111" stroke-width="1.2"/>
<ellipse cx="654.5" cy="582.5" rx="11.5" ry="5" fill="#fff" stroke="#111" stroke-width="1.3"/>
<ellipse cx="654.5" cy="583" rx="7.8" ry="2.8" fill="#fff" stroke="#111" stroke-width="1.3"/>
<ellipse cx="654.5" cy="583.6" rx="6.2" ry="2.0" fill="none" stroke="#111" stroke-width="0.9"/>
</g>
<g transform="rotate(-17 661 605)">
<path d="M650,598 V612 A11,5 0 0 0 672,612 V598" fill="#fff" stroke="#111" stroke-width="1.3"/>
<ellipse cx="661" cy="598" rx="11" ry="5" fill="#fff" stroke="#111" stroke-width="1.4"/>
<ellipse cx="661" cy="598.6" rx="8.8" ry="3.6" fill="#fff" stroke="#111" stroke-width="1.0"/>
<path d="M650,605.5A11,5 0 0 0 672,605.5" fill="none" stroke="#111" stroke-width="1.3"/>
<path d="M650,607.5A11,5 0 0 0 672,607.5" fill="none" stroke="#111" stroke-width="1.0"/>
<path d="M653,610.5 V614 M658,612 V615.5 M664,612 V615.5 M669,610.5 V614" fill="none" stroke="#111" stroke-width="1.6"/>
</g>
<g transform="rotate(-17 670.5 634)">
<path d="M657.8,626 V642 A12.7,5.4 0 0 0 683.2,642 V626" fill="#fff" stroke="#111" stroke-width="1.3"/>
<ellipse cx="670.5" cy="626" rx="12.7" ry="5.2" fill="#fff" stroke="#111" stroke-width="1.4"/>
<path d="M657.8,627.5A12.7,5.2 0 0 0 683.2,627.5" fill="none" stroke="#111" stroke-width="2.0"/>
<path d="M657.8,629.8A12.7,5.2 0 0 0 683.2,629.8" fill="none" stroke="#111" stroke-width="1.0"/>
<path d="M657.8,631.5A12.7,5.2 0 0 0 683.2,631.5" fill="none" stroke="#111" stroke-width="1.0"/>
<path d="M662,645.5 h4.5 v2.5 h-4.5z" fill="none" stroke="#111" stroke-width="0.9"/>
</g>
<path d="M509.4,396.7 C510.5,395.6 512,395.4 513.3,395.6 L522.5,397.9 C523.8,398.4 523.6,399.3 523.3,399.6 L518.3,402.5 C516.5,403.3 516.2,404.6 516.7,405 C517.3,406.7 518.2,407.1 519.2,407.1 L527.5,406.7 C528.8,406.9 529.6,407.3 529.2,407.9 L526.25,411.7 L522.5,412.5 L520.8,414.6 L512.5,416.25 C511.5,416 511.5,415.2 511.7,414.6 L513.3,410.4 C512.6,408.8 511.2,407.9 510,407.9 C507.5,407.9 505.5,408.3 504.2,408.75 L498.3,411.25 C497.5,411.3 496.6,409.5 496.25,406.7 C496,404 496.6,401.9 497.9,401.7 C499.5,401.5 501.3,403 503.3,403.75 C506,404.6 509.5,404.2 510.8,403.75 C512.1,403.2 512.6,401.8 512.1,401.25 L509.4,397.9 Z" fill="#fff" stroke="#111" stroke-width="1.4"/>
<ellipse cx="501.7" cy="406.25" rx="1.7" ry="1.0" fill="#111" stroke="#111" stroke-width="1.4"/>
<ellipse cx="516.7" cy="399" rx="2.0" ry="1.1" fill="#111" stroke="#111" stroke-width="1.4"/>
<path d="M496.3,372.6 V380 C497,384 504,386.4 513.8,386.4 C523,386.4 530.5,384 531.3,380 V372.6" fill="#fff" stroke="#111" stroke-width="1.6"/>
<path d="M510,375.5 V386 C516,386 525,385 529.5,381.5 V374.5 Z" fill="#222" stroke="#111" stroke-width="0.8"/>
<path d="M499.5,375.5 C502,376.5 506,377 509.5,377 M499.5,380 C502,381.5 506,382 509.5,382" fill="none" stroke="#111" stroke-width="1.4"/>
<path d="M513,378 h3.5 v3 h-3.5z M519,377 h3.5 v3 h-3.5z M525,375.5 h2.5 v3 h-2.5z" fill="#fff" stroke="#fff" stroke-width="0.5"/>
<path d="M493.6,358 V368 A19.4,7.5 0 0 0 532.4,368 V358" fill="#fff" stroke="#111" stroke-width="1.6"/>
<path d="M500.5,362 L505,370.5 L509,371.5 L508.5,364 Z M512,364.5 h5 v6.5 h-5z" fill="#1f1f1f" stroke="#111" stroke-width="1.1"/>
<path d="M517.5,364.5 C520,364.5 521.5,366.5 521,369.5 L519.5,371 L517.5,371 Z" fill="#fff" stroke="#111" stroke-width="1.0"/>
<path d="M524,362.5 C527,362 529,360.5 530,359" fill="none" stroke="#111" stroke-width="1.4"/>
<path d="M493.6,370.3A19.4,7.5 0 0 0 532.4,370.3" fill="none" stroke="#111" stroke-width="3.0"/>
<path d="M493.6,367.8A19.4,7.5 0 0 0 532.4,367.8" fill="none" stroke="#111" stroke-width="1.0"/>
<path d="M493.3,347.4 V354.5 A19.7,8.2 0 0 0 532.7,354.5 V347.4" fill="#111" stroke="#111" stroke-width="1.6"/>
<ellipse cx="513" cy="347.4" rx="19.7" ry="11.25" fill="#fff" stroke="#111" stroke-width="1.6"/>
<path d="M493.3,347.6A19.7,11.0 0 0 0 532.7,347.6" fill="none" stroke="#111" stroke-width="0.0"/>
<ellipse cx="513.7" cy="343.5" rx="6" ry="3.5" fill="#fff" stroke="#111" stroke-width="1.3"/>
<path d="M510.5,345.5 C512,346.5 515,346.5 517,345.5" fill="none" stroke="#111" stroke-width="1.2"/>
<ellipse cx="506" cy="350.6" rx="4.7" ry="2.8" fill="#fff" stroke="#111" stroke-width="1.3"/>
<path d="M503.5,349.5 h5 v2.3 h-5z" fill="none" stroke="#111" stroke-width="0.9"/>
<ellipse cx="519" cy="351.4" rx="4.6" ry="2.8" fill="#fff" stroke="#111" stroke-width="1.3"/>
<path d="M516,352 C517.5,350 520.5,350 522,352" fill="none" stroke="#111" stroke-width="1.3"/>
<path d="M497,350 L500.5,340 L506.5,338.5 L503,342 Z M529,350.5 L523,340 L527.5,341 L530,345 Z" fill="#1a1a1a" stroke="#111" stroke-width="1.1"/>
<path d="M499.5,346 l3,-1.5 M525.5,346.5 l-2.5,-1.5" fill="none" stroke="#fff" stroke-width="1.2"/>
<path d="M505,356 L513,354 L519,356 L512,357.5 Z" fill="#1a1a1a" stroke="#111" stroke-width="1"/>
<path d="M515.65,313.4 V318.9 A6.9,4.2 0 0 0 529.4499999999999,318.9 V313.4" fill="#fff" stroke="#111" stroke-width="1.3"/>
<ellipse cx="522.55" cy="313.4" rx="6.9" ry="4.2" fill="#fff" stroke="#111" stroke-width="1.3"/>
<ellipse cx="522.55" cy="313.59999999999997" rx="4.2780000000000005" ry="2.3100000000000005" fill="#2a2a2a" stroke="#111" stroke-width="1.5"/>
<path d="M519.79,313.09999999999997 C521.17,311.92999999999995 523.93,311.92999999999995 525.31,313.09999999999997" fill="none" stroke="#aaa" stroke-width="0.9"/>
<path d="M499.3,309.7 V314.7 A8.8,4.6 0 0 0 516.9,314.7 V309.7" fill="#fff" stroke="#111" stroke-width="1.3"/>
<ellipse cx="508.1" cy="309.7" rx="8.8" ry="4.6" fill="#fff" stroke="#111" stroke-width="1.3"/>
<ellipse cx="508.1" cy="309.9" rx="5.456" ry="2.53" fill="#2a2a2a" stroke="#111" stroke-width="1.5"/>
<path d="M504.58000000000004,309.4 C506.34000000000003,308.09 509.86,308.09 511.62,309.4" fill="none" stroke="#aaa" stroke-width="0.9"/>
<path d="M504.09999999999997,318.4 V324.2 A7.3,3.7 0 0 0 518.6999999999999,324.2 V318.4" fill="#fff" stroke="#111" stroke-width="1.3"/>
<ellipse cx="511.4" cy="318.4" rx="7.3" ry="3.7" fill="#fff" stroke="#111" stroke-width="1.3"/>
<ellipse cx="511.4" cy="318.59999999999997" rx="4.526" ry="2.035" fill="#2a2a2a" stroke="#111" stroke-width="1.5"/>
<path d="M508.47999999999996,318.09999999999997 C509.94,317.10499999999996 512.86,317.10499999999996 514.3199999999999,318.09999999999997" fill="none" stroke="#aaa" stroke-width="0.9"/>
<path d="M495,262 L495,290 A18,8.2 0 0 0 531,290 L531,262" fill="#fff" stroke="#111" stroke-width="1.5"/>
<path d="M495,275.8A18,7.6 0 0 0 531,275.8" fill="none" stroke="#111" stroke-width="1.4"/>
<path d="M494.6,261 V270 C495,274 502,277.2 513,277.2 C524,277.2 531,274 531.4,270 V261 Z" fill="#111" stroke="#111" stroke-width="1.0"/>
<ellipse cx="513" cy="261.2" rx="18.2" ry="7.0" fill="#111" stroke="#111" stroke-width="1.4"/>
<path d="M496.5,263.5 C496.8,260 498.5,258 501,256.8 M529.5,263.5 C529.2,260 527.5,258 525,256.8" fill="none" stroke="#ddd" stroke-width="1.0"/>
<path d="M501,263.5 C504,266 508,267 511,267.2" fill="none" stroke="#bbb" stroke-width="0.9"/>
<path d="M508.5,265 v3 M511,265.6 v3 M513.5,265.6 v3 M516,265.4 v3 M518.5,265 v3" fill="none" stroke="#555" stroke-width="0.7"/>
<path d="M497.5,268.5 l1.5,3.5 M524.5,270 v3 M528,268 l-1,3" fill="none" stroke="#999" stroke-width="0.8"/>
<path d="M505.6,273.2 h12.9 v3.4 h-12.9 z" fill="#fff" stroke="#111" stroke-width="0.8"/>
<path d="M501.3,251 C501.3,244.5 507,242.2 512.5,242.2 C518,242.2 526,244.5 526,251 C526,256 518,259.5 512.5,259.5 C507,259.5 501.3,256 501.3,251 Z" fill="#151515" stroke="#111" stroke-width="1.2"/>
<path d="M503,254 C504.5,256.5 507,258 509,258.5 M519.5,257.5 C521,256.5 522,255.5 522.5,254.5" fill="none" stroke="#ddd" stroke-width="1.1"/>
<ellipse cx="504.5" cy="246.5" rx="1.3" ry="0.9" fill="#ddd" stroke="#ddd" stroke-width="0.5"/>
<ellipse cx="508" cy="244.5" rx="1.1" ry="0.8" fill="#ddd" stroke="#ddd" stroke-width="0.5"/>
<ellipse cx="503.8" cy="250" rx="1.0" ry="0.8" fill="#ddd" stroke="#ddd" stroke-width="0.5"/>
<ellipse cx="521.8" cy="248.5" rx="1.2" ry="0.9" fill="#ccc" stroke="#ccc" stroke-width="0.5"/>
<ellipse cx="516" cy="254.5" rx="1.0" ry="0.7" fill="#bbb" stroke="#bbb" stroke-width="0.5"/>
<path d="M513.2,228.3 L509.5,253 L520.6,253 L524.3,228.7 L519.9,225.3 Z" fill="#fff" stroke="#111" stroke-width="1.4"/>
<path d="M513.2,228.3 L516.9,232.4 L524.3,228.7 M516.9,232.4 L513.3,253" fill="none" stroke="#111" stroke-width="1.3"/>
<path d="M518.5,236 L516.5,252 M522,233 L521,238" fill="none" stroke="#333" stroke-width="1.2"/>
<path d="M497.4,204 L497.6,213 A15.6,8.9 0 0 0 528.7,213 L528.7,204" fill="#fff" stroke="#111" stroke-width="1.5"/>
<ellipse cx="513.05" cy="203.5" rx="15.6" ry="8.4" fill="#fff" stroke="#111" stroke-width="1.8"/>
<path d="M498.6,206.5 C499,199.5 506,196.3 513,196.3 C520,196.3 527,199.5 527.6,206.5 C523,204 518,203 513.5,203 C507,203 501.5,204.3 498.6,206.5 Z" fill="#111" stroke="#111" stroke-width="0.8"/>
<path d="M502.5,199.8 V204.5 M505.5,198.6 V203.6 M510,197.8 V203 M514.5,197.8 V203 M518,198.3 V203.2" fill="none" stroke="#777" stroke-width="0.8"/>
<path d="M521.5,199.3 C523.5,198.8 525.5,200.3 524.8,202 M519.8,202.5 l2.5,0.3 M523.5,203.8 l2,0.8" fill="none" stroke="#eee" stroke-width="1.3"/>
<ellipse cx="513.8" cy="208.0" rx="10.0" ry="3.6" fill="#fff" stroke="#111" stroke-width="1.6"/>
<path d="M500.6,209 V216 M511.1,211.5 V219.5 M522.4,211 V217.5" fill="none" stroke="#111" stroke-width="1.6"/>
<path d="M499,209.5 C502,212 507,213 512,213 M506,212.5 C507,210 509,209.8 510,211.5" fill="none" stroke="#111" stroke-width="1.6"/>
<ellipse cx="504.8" cy="209.6" rx="1.2" ry="1.0" fill="#fff" stroke="#111" stroke-width="0.8"/>
<ellipse cx="512.8" cy="88.2" rx="21.1" ry="12.4" fill="none" stroke="#111" stroke-width="3.4"/>
<ellipse cx="512.55" cy="174.9" rx="21.9" ry="12.9" fill="none" stroke="#111" stroke-width="3.4"/>
<path d="M489.3,124 C489.3,138 490.5,147 492.5,150 C497,154 505,155.6 512.9,155.6 C521,155.6 529,154 533,150 C535,147 536.5,138 536.5,124" fill="#fff" stroke="#111" stroke-width="1.4"/>
<path d="M489.29999999999995,129.3A23.6,5.5 0 0 0 536.5,129.3" fill="none" stroke="#111" stroke-width="2.8"/>
<path d="M489.29999999999995,132.2A23.6,5.5 0 0 0 536.5,132.2" fill="none" stroke="#111" stroke-width="2.8"/>
<path d="M489.4,135.8A23.5,5.5 0 0 0 536.4,135.8" fill="none" stroke="#111" stroke-width="1.1"/>
<path d="M489.5,137.0A23.4,5.5 0 0 0 536.3,137.0" fill="none" stroke="#111" stroke-width="1.0"/>
<path d="M490.09999999999997,142.3A22.8,5.5 0 0 0 535.6999999999999,142.3" fill="none" stroke="#111" stroke-width="1.1"/>
<path d="M490.4,143.7A22.5,5.5 0 0 0 535.4,143.7" fill="none" stroke="#111" stroke-width="1.0"/>
<ellipse cx="512.9" cy="123.8" rx="23.6" ry="8.8" fill="#fff" stroke="#111" stroke-width="1.3"/>
<ellipse cx="512.9" cy="124.6" rx="21.8" ry="7.9" fill="none" stroke="#111" stroke-width="1.0"/>
<path d="M497,121 L497.3,129 L511,133.5 L511,127.5 Z M528.6,121 L528.4,129 L514.6,133.5 L514.6,127.5 Z" fill="#fff" stroke="#111" stroke-width="1.2"/>
<path d="M503,123.5 C507,121 519,121 523,123.5 L514.6,127.5 L511,127.5 Z" fill="#111" stroke="#111" stroke-width="1.0"/>
<path d="M511,127.5 V134 M514.6,127.5 V134" fill="none" stroke="#111" stroke-width="1.0"/>
<path d="M495.6,113.5 V117.5 C496.5,121.5 503,123.8 512.95,123.8 C523,123.8 529.5,121.5 530.3,117.5 V113.5" fill="#1a1a1a" stroke="#111" stroke-width="1.2"/>
<path d="M497,120 L511,124.5 M528.6,120 L514.6,124.5" fill="none" stroke="#999" stroke-width="1.0"/>
<ellipse cx="512.95" cy="113.4" rx="17.2" ry="7.0" fill="#fff" stroke="#111" stroke-width="2.4"/>
<path d="M498.5,118 C504,115.2 521,115.2 527.5,118" fill="none" stroke="#111" stroke-width="1.1"/>
<path d="M488.4,35.5 C488.3,41 490,45.5 496.4,49 C503,53.5 510,55.8 517.3,55.6 C527,55.3 535.3,50 535.5,44.6 L535.7,35.5 Z" fill="#fff" stroke="#111" stroke-width="1.4"/>
<path d="M489.3,41.5 C494,47 503,49.3 513,49.2 C524,49.1 532,46 535.4,41.5" fill="none" stroke="#111" stroke-width="2.8"/>
<path d="M490.5,44.8 C496,50 504,51.8 514,51.5 C524,51.2 531.5,48.8 535.3,45" fill="none" stroke="#111" stroke-width="1.1"/>
<ellipse cx="512" cy="33.2" rx="23.6" ry="11.4" fill="#fff" stroke="#111" stroke-width="1.5"/>
<ellipse cx="512.2" cy="30.4" rx="15.0" ry="7.7" fill="#fff" stroke="#111" stroke-width="2.3"/>
<path d="M514,37.5 C518.5,37 523,34.5 526,31 L524.5,29.5 C521,32.8 517,34.5 513,34.8 Z" fill="#2a2a2a" stroke="#111" stroke-width="0.6"/>
<path d="M506.3,24.0 C506.6,28.5 508.3,32.5 511,35.3 C512,36.3 513,37 514,37.5 C518.5,37 523,34.5 526,31" fill="none" stroke="#111" stroke-width="1.4"/>
<ellipse cx="552.6" cy="48.85" rx="4.7" ry="5.4" fill="#fff" stroke="#111" stroke-width="1.7" transform="rotate(35 552.6 48.85)"/>
<path d="M551.5,54 C555.5,53 558.5,50 558,45.8 L556,46.5 C556.2,49.5 554.5,52 551.5,52.5 Z" fill="#111" stroke="#111" stroke-width="0.8"/>
<ellipse cx="565.8" cy="61.4" rx="3.5" ry="4.3" fill="#fff" stroke="#111" stroke-width="1.7" transform="rotate(40 565.8 61.4)"/>
<path d="M563,64.8 C566.5,64.5 569.5,62 569.6,58.5 L568,58.8 C567.8,61 566,63 563.5,63.3 Z" fill="#111" stroke="#111" stroke-width="0.8"/>
<defs><pattern id="knurl" width="2.3" height="2.3" patternUnits="userSpaceOnUse" patternTransform="rotate(18)"><rect width="2.3" height="2.3" fill="#161616"/><circle cx="1.15" cy="1.15" r="0.5" fill="#8a8a8a"/></pattern></defs>
<path d="M490.1,12.2 C490.5,9 494,7 497.3,6.1 L509.6,0.6 C512,-0.2 514,0 516.2,0.6 L595.1,27.8 C598,29 600,31 599.6,33.3 C599.3,35.8 598.3,37.3 596.5,38.5 C592,41 587.5,43.3 584,44.5 C582.3,45.1 581,45.2 579.6,45 L494,18.9 C492,18.3 490.8,17.5 490.7,16.7 Z" fill="#fff" stroke="#111" stroke-width="1.7"/>
<path d="M564,16.7 L595.1,27.8 C598,29 600,31 599.2,32.8 C597.5,35.5 592,38.2 583,39.8 C578,40.4 573,39.4 569.6,37.8 L544.6,30 Z" fill="url(#knurl)" stroke="#111" stroke-width="1.2"/>
<path d="M490.4,13.2 C490.8,14 491.5,14.4 492.5,14.7 L569.6,37.8 C576,40.2 582,40.6 588,39 L598.8,34.5" fill="none" stroke="#111" stroke-width="1.8"/>
<path d="M569.6,37.8 V42.3" fill="none" stroke="#111" stroke-width="1.0"/>
</svg></body></html>
